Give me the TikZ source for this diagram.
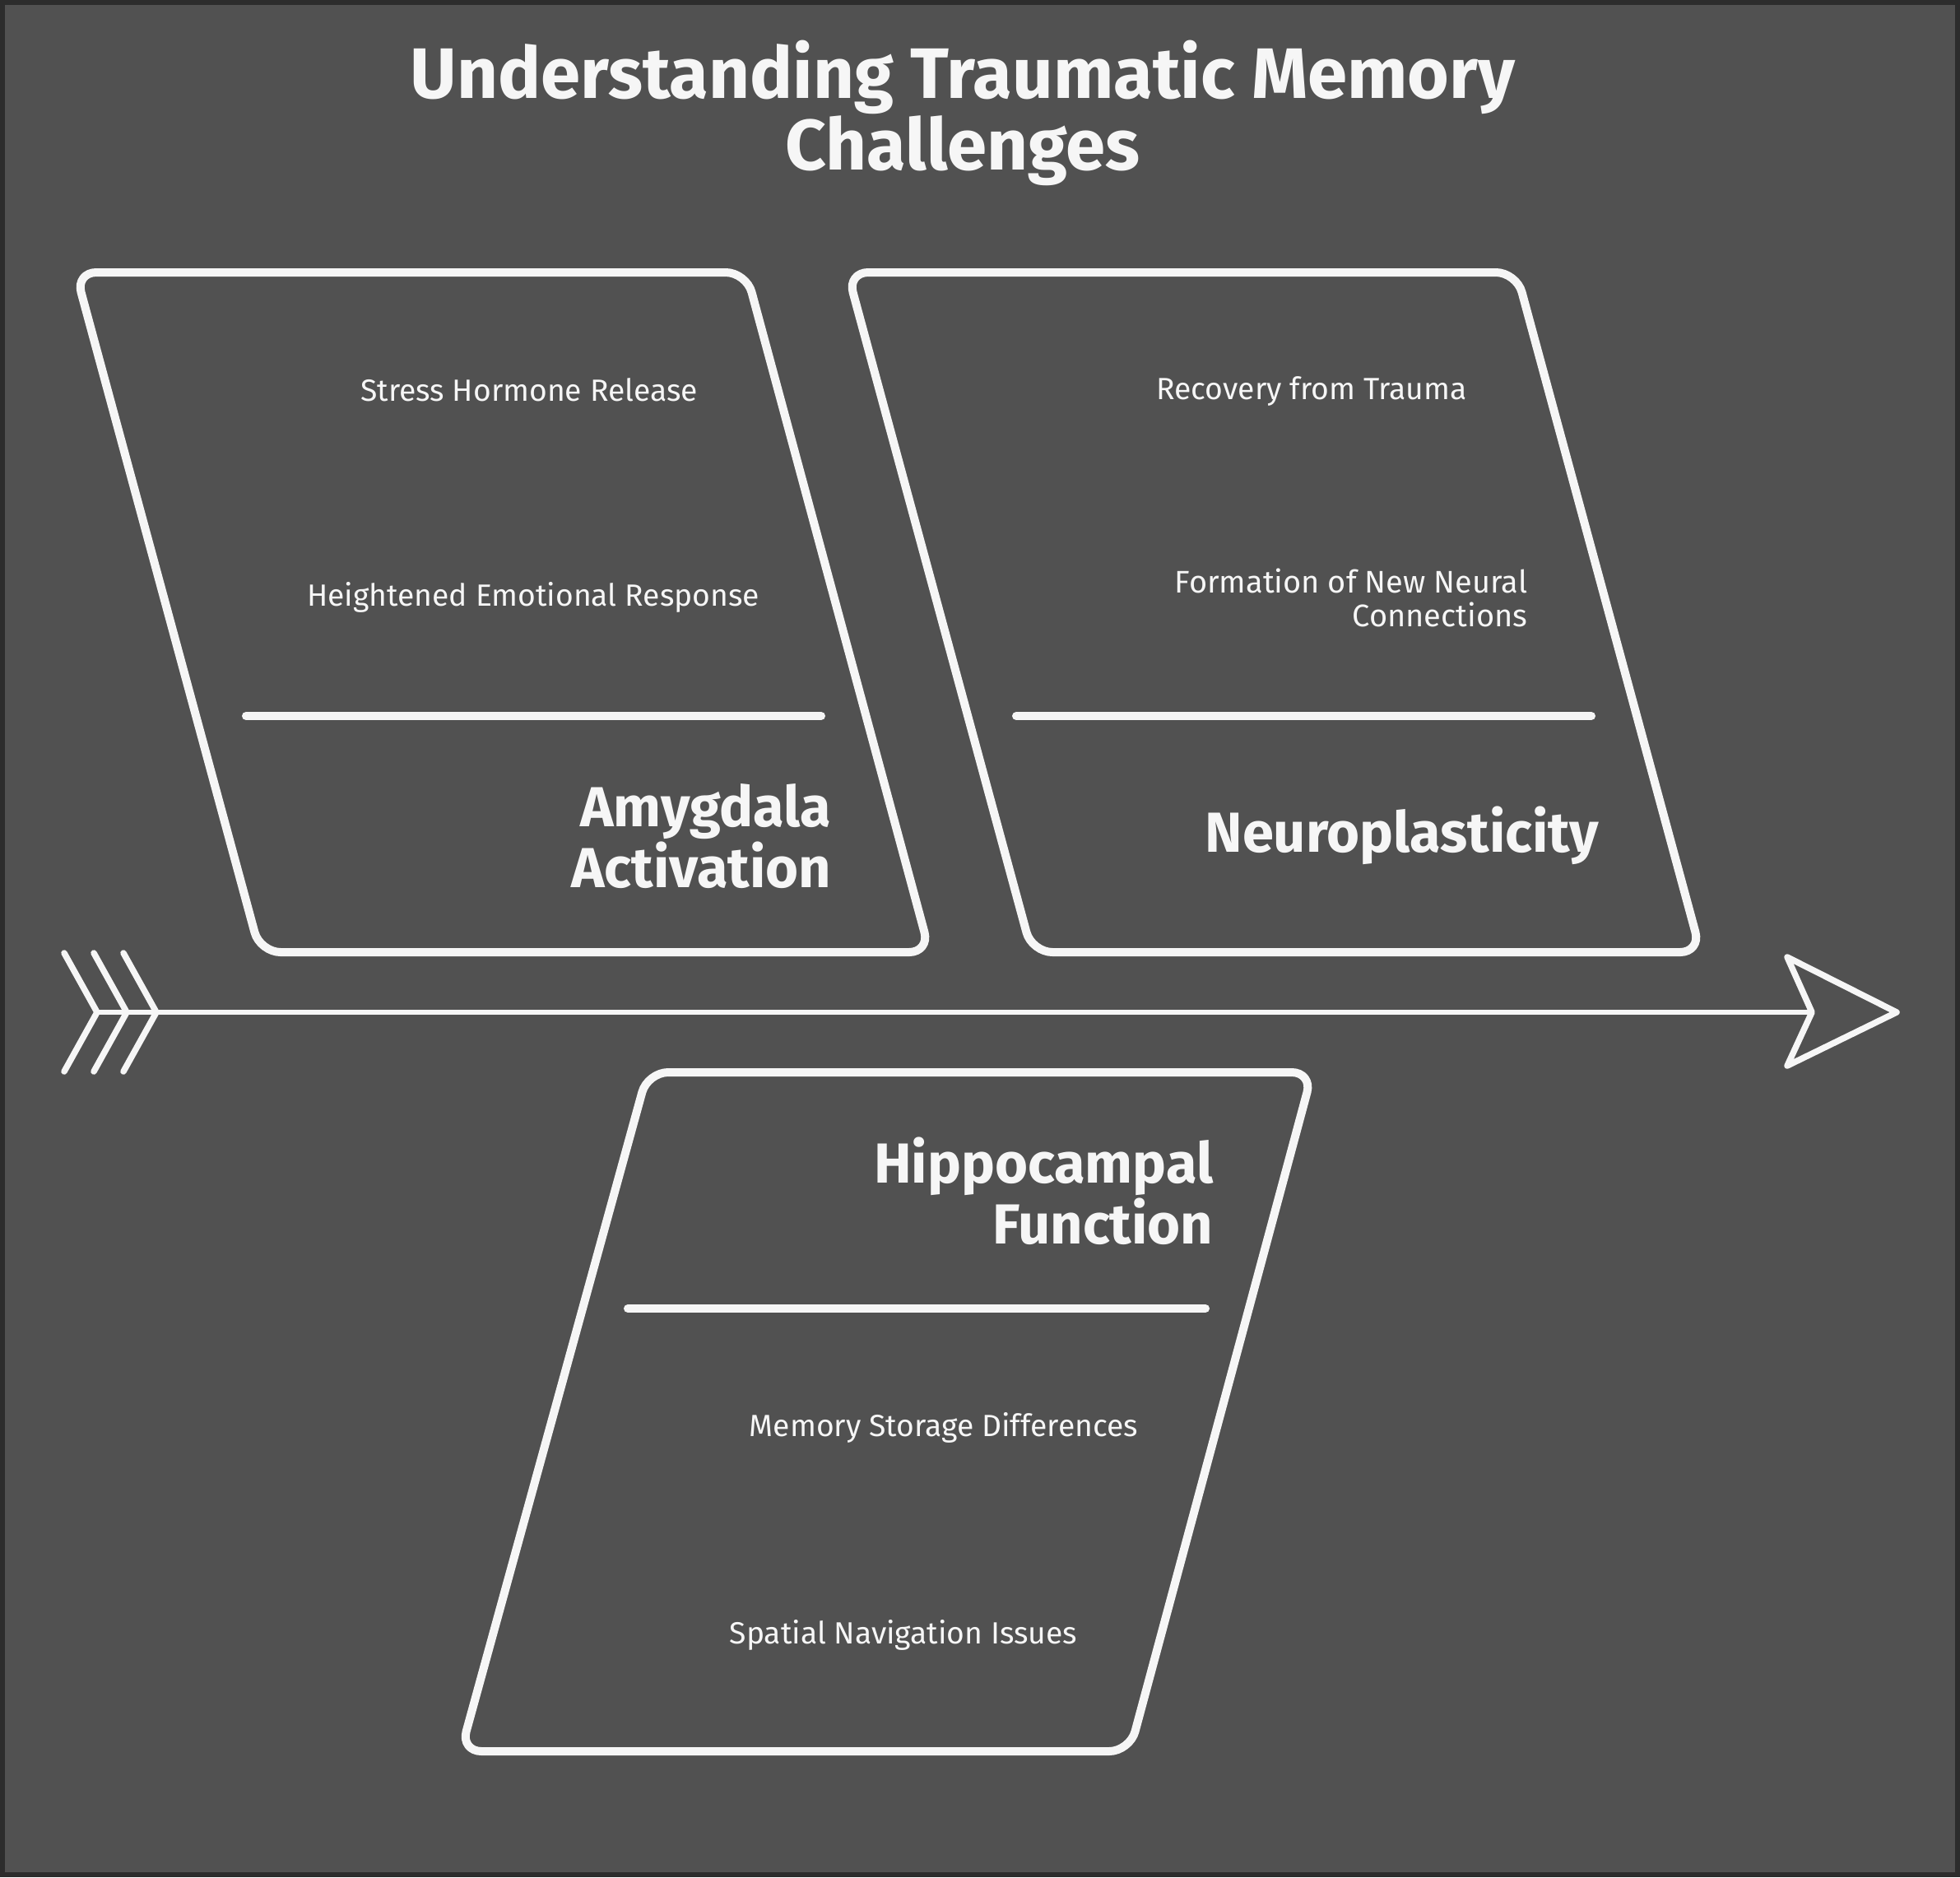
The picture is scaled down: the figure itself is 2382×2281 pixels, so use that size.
\documentclass[tikz,border=0pt]{standalone}
\usepackage{fontspec}
\setmainfont{Fira Sans}
\definecolor{bgc}{RGB}{81,81,81}
\definecolor{framec}{RGB}{44,44,44}
\definecolor{inkc}{RGB}{246,246,246}
\tikzset{
  boxline/.style={draw=inkc, line width=0.1cm, rounded corners=0.25cm, line join=round},
  sepline/.style={draw=inkc, line width=0.1cm, line cap=round},
  spineline/.style={draw=inkc, line width=0.06cm, line cap=round, line join=round},
  chevline/.style={draw=inkc, line width=0.075cm, line cap=round, line join=round},
  itemtext/.style={text=inkc, font=\fontsize{10.6}{12}\selectfont, inner sep=0pt},
  headtext/.style={text=inkc, font=\bfseries\fontsize{19.5}{20}\selectfont, inner sep=0pt, align=right, anchor=east},
  titletext/.style={text=inkc, font=\bfseries\fontsize{24.7}{24.7}\selectfont, inner sep=0pt, align=center}
}
\begin{document}
\begin{tikzpicture}[x=0.01cm,y=-0.01cm]
\fill[framec] (0,0) rectangle (2382,2281);
\fill[bgc] (6,6) rectangle (2376,2275);
\useasboundingbox (0,0) rectangle (2382,2281);

% title
\node[titletext] (title) at (1170,137) {Understanding Traumatic Memory\\Challenges};

% box 1: Amygdala Activation
\draw[boxline] (92,331) -- (907,331) -- (1130,1157) -- (316,1157) -- cycle;
\coordinate (s1a) at (299,870);
\coordinate (s1b) at (998,870);
\draw[sepline] (s1a) -- (s1b);
\node[itemtext] (stress) at (643,474) {Stress Hormone Release};
\node[itemtext] (heightened) at (648,726) {Heightened Emotional Response};
\node[headtext] (amygdala) at (1011,1016) {Amygdala\\Activation};

% box 2: Neuroplasticity
\draw[boxline] (1030,331) -- (1843,331) -- (2067,1157) -- (1254,1157) -- cycle;
\coordinate (s2a) at (1235,870);
\coordinate (s2b) at (1934,870);
\draw[sepline] (s2a) -- (s2b);
\node[itemtext] (recovery) at (1594,475) {Recovery from Trauma};
\node[itemtext, align=right, anchor=east, font=\fontsize{10.8}{11.7}\selectfont] (formation) at (1857,726) {Formation of New Neural\\Connections};
\node[headtext] (neuro) at (1944,1015) {Neuroplasticity};

% box 3: Hippocampal Function
\draw[boxline] (787,1303) -- (1595,1303) -- (1373,2128) -- (560,2128) -- cycle;
\coordinate (s3a) at (763,1590);
\coordinate (s3b) at (1465,1590);
\draw[sepline] (s3a) -- (s3b);
\node[headtext] (hippo) at (1475,1447) {Hippocampal\\Function};
\node[itemtext] (memory) at (1147,1735) {Memory Storage Differences};
\node[itemtext] (spatial) at (1098,1987) {Spatial Navigation Issues};

% spine
\coordinate (tail) at (118,1230);
\coordinate (notch) at (2202,1230);
\coordinate (tip) at (2305,1230);
\coordinate (headtop) at (2172,1163);
\coordinate (headbot) at (2172,1295);
\draw[spineline] (tail) -- (notch);
\draw[chevline] (notch) -- (headtop) -- (tip) -- (headbot) -- cycle;
% tail chevrons
\foreach \dx/\nm in {0/c1,36/c2,72/c3}{
  \coordinate (\nm t) at (78+\dx,1158);
  \coordinate (\nm v) at (118+\dx,1230);
  \coordinate (\nm b) at (78+\dx,1302);
  \draw[chevline] (\nm t) -- (\nm v) -- (\nm b);
}
\end{tikzpicture}
\end{document}
